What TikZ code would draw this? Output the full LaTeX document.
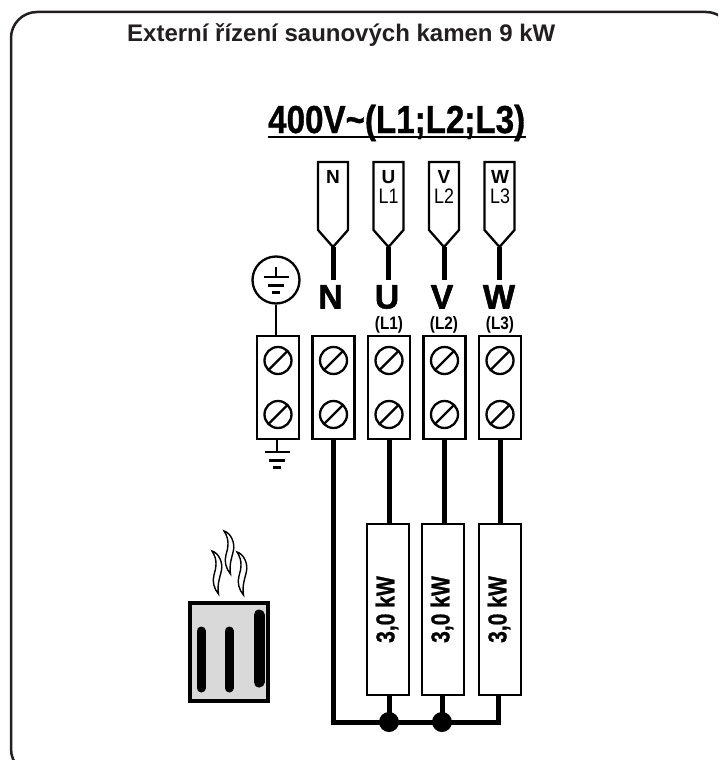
\documentclass[tikz,border=0pt]{standalone}
\usepackage{xcolor}
\usepackage{fontspec}
\setmainfont{Liberation Sans}
\usetikzlibrary{
	positioning
}
\definecolor{heatergray}{HTML}{D9D9D9}
\definecolor{titleink}{HTML}{231F20}
\newcommand{\narrowed}[2]{\scalebox{#1}[1]{#2}}
\newcommand{\earthbars}[1]{\draw [thin wire] (#1) ++(-12.5,0) -- ++(25,0) ++(-20.5,8.5) -- ++(16,0) ++(-12,7) -- ++(8,0);}
\newcommand{\steam}[1]{\draw [vapour,shift={(#1)}] (0,0) .. controls (7,2) and (11,12) .. (9.5,19) .. controls (8,27) and (5,32) .. (6.5,43) .. controls (2,38) and (0,30) .. (2,24) .. controls (4,17) and (6,9) .. (0,0) -- cycle;}
\tikzset{
	node distance=55.5pt,
	thin wire/.style={
		line width=2.3pt
	},
	thick wire/.style={
		line width=5pt
	},
	vapour/.style={
		line width=1.4pt,
		fill=white
	},
	terminal/.style={
		draw,
		line width=2.3pt,
		minimum width=42pt,
		minimum height=103pt
	},
	screw/.style={
		draw,
		circle,
		line width=2.3pt,
		inner sep=0pt,
		minimum size=27pt,
		path picture={
			\draw [line width=2.3pt] (path picture bounding box.south west) -- (path picture bounding box.north east);
		}
	},
	resistor/.style={
		draw,
		line width=2.3pt,
		minimum width=42pt,
		minimum height=171pt
	},
	junction/.style={
		circle,
		fill=black,
		inner sep=0pt,
		minimum size=20pt
	},
	plug label/.style={
		anchor=base,
		inner sep=0pt,
		font=\fontsize{19}{19}\selectfont\bfseries
	},
	plug phase/.style={
		anchor=base,
		inner sep=0pt,
		font=\fontsize{21}{21}\selectfont
	},
	phase letter/.style={
		anchor=base,
		inner sep=5pt,
		font=\fontsize{34}{34}\selectfont\bfseries\addfontfeature{FakeBold=1.5}
	},
	phase number/.style={
		anchor=base,
		inner sep=0pt,
		font=\fontsize{18}{18}\selectfont\bfseries
	},
	power/.style={
		rotate=90,
		inner sep=0pt,
		font=\fontsize{26}{26}\selectfont\bfseries\addfontfeature{FakeBold=1}
	},
	bar/.style={
		line cap=round,
		line width=9pt
	}
}

\begin{document}
\begin{tikzpicture}[x=1pt,y=-1pt]
	\clip (0,0) rectangle (718,760);
	\draw [line width=2.5pt,rounded corners=26pt,titleink] (11,12) rectangle (732,775);

	\node [anchor=base west,inner sep=0pt,text=titleink,font=\fontsize{24}{24}\selectfont\bfseries] (heading) at (127,42) {Externí řízení saunových kamen 9 kW};
	\node [anchor=base west,inner sep=0pt,font=\fontsize{39}{39}\selectfont\bfseries\addfontfeature{FakeBold=1}] (supply) at (268,133) {\narrowed{.85}{400V\textasciitilde(L1;L2;L3)}};
	\coordinate (supplyL) at (268,137);
	\coordinate (supplyR) at (526,137);
	\draw [thin wire] (supplyL) -- (supplyR);

	% plugs
	\coordinate (tipN) at (333,247);
	\coordinate [right of=tipN] (tipU);
	\coordinate [right of=tipU] (tipV);
	\coordinate [right of=tipV] (tipW);
	\draw [thin wire,line join=miter] (tipN) -- ++(-15,-17) -- ++(0,-68) -- ++(30,0) -- ++(0,68) -- cycle;
	\draw [thin wire,line join=miter] (tipU) -- ++(-15,-17) -- ++(0,-68) -- ++(30,0) -- ++(0,68) -- cycle;
	\draw [thin wire,line join=miter] (tipV) -- ++(-15,-17) -- ++(0,-68) -- ++(30,0) -- ++(0,68) -- cycle;
	\draw [thin wire,line join=miter] (tipW) -- ++(-15,-17) -- ++(0,-68) -- ++(30,0) -- ++(0,68) -- cycle;

	\node [plug label] (plugN) at (333,183) {N};
	\node [plug label] (plugU) at (388.5,183) {U};
	\node [plug phase] (phaseU) at (388.5,203) {\narrowed{.85}{L1}};
	\node [plug label] (plugV) at (444,183) {V};
	\node [plug phase] (phaseV) at (444,203) {\narrowed{.85}{L2}};
	\node [plug label] (plugW) at (500,183) {W};
	\node [plug phase] (phaseW) at (500,203) {\narrowed{.85}{L3}};

	\node [phase letter] (bigN) at (330.5,308.5) {N};
	\node [phase letter] (bigU) at (387,308.5) {U};
	\node [phase letter] (bigV) at (442,308.5) {V};
	\node [phase letter] (bigW) at (499,308.5) {W};
	\node [phase number] (numU) at (389,329) {\narrowed{.85}{(L1)}};
	\node [phase number] (numV) at (444,329) {\narrowed{.85}{(L2)}};
	\node [phase number] (numW) at (500,329) {\narrowed{.85}{(L3)}};

	\draw [thick wire] (tipN) -- (tipN |- bigN.north);
	\draw [thick wire] (tipU) -- (tipU |- bigU.north);
	\draw [thick wire] (tipV) -- (tipV |- bigV.north);
	\draw [thick wire] (tipW) -- (tipW |- bigW.north);

	% terminal block
	\node [terminal] (termE) at (278,387.5) {};
	\node [terminal,right of=termE] (termN) {};
	\node [terminal,right of=termN] (termU) {};
	\node [terminal,right of=termU] (termV) {};
	\node [terminal,right of=termV] (termW) {};

	\node [screw] (screwE1) at ([yshift=27pt]termE.center) {};
	\node [screw] (screwE2) at ([yshift=-27pt]termE.center) {};
	\node [screw] (screwN1) at ([yshift=27pt]termN.center) {};
	\node [screw] (screwN2) at ([yshift=-27pt]termN.center) {};
	\node [screw] (screwU1) at ([yshift=27pt]termU.center) {};
	\node [screw] (screwU2) at ([yshift=-27pt]termU.center) {};
	\node [screw] (screwV1) at ([yshift=27pt]termV.center) {};
	\node [screw] (screwV2) at ([yshift=-27pt]termV.center) {};
	\node [screw] (screwW1) at ([yshift=27pt]termW.center) {};
	\node [screw] (screwW2) at ([yshift=-27pt]termW.center) {};

	% earth
	\node [draw,circle,line width=2.3pt,inner sep=0pt,minimum size=47pt] (earth) at (276,280) {};
	\coordinate (earthTop) at (276,277);
	\coordinate (earthBottom) at (277,452);
	\draw [thin wire] (earth.south) -- (earth.south |- termE.north);
	\draw [thin wire] (earthTop) -- ++(0,-10);
	\draw [thin wire] (earthBottom |- termE.south) -- (earthBottom);
	\earthbars{earthTop}
	\earthbars{earthBottom}

	% heating elements
	\node [resistor] (resU) at (388,609.5) {};
	\node [resistor] (resV) at (443,609.5) {};
	\node [resistor] (resW) at (500,609.5) {};
	\node [power] (powerU) at ([xshift=-1pt]resU.center) {\narrowed{.81}{3,0 kW}};
	\node [power] (powerV) at ([xshift=-1pt]resV.center) {\narrowed{.81}{3,0 kW}};
	\node [power] (powerW) at ([xshift=-1pt]resW.center) {\narrowed{.81}{3,0 kW}};

	\node [junction] (dotU) at (389,722) {};
	\node [junction] (dotV) at (442,722) {};
	\coordinate (busW) at (498,722);

	\draw [thick wire] (termU.south) -- (termU.south |- resU.north);
	\draw [thick wire] (termV.south) -- (termV.south |- resV.north);
	\draw [thick wire] (termW.south) -- (termW.south |- resW.north);
	\draw [thick wire] (dotU |- resU.south) -- (dotU.center);
	\draw [thick wire] (dotV |- resV.south) -- (dotV.center);
	\draw [thick wire,line join=miter] (termN.south) -- (termN.south |- dotU) -- (dotU.center) -- (dotV.center) -- (busW) -- (busW |- resW.south);

	% stove
	\node [draw,fill=heatergray,line width=4pt,minimum width=78pt,minimum height=98pt] (stove) at (229,652) {};
	\coordinate (barA) at (201,631);
	\coordinate (barB) at (229,631);
	\coordinate (barC) at (259,615);
	\draw [bar] (barA) -- ++(0,57);
	\draw [bar] (barB) -- ++(0,57);
	\draw [bar,line width=11pt] (barC) -- ++(0,67);

	\coordinate (steamA) at (212,551);
	\coordinate (steamB) at (224,531);
	\coordinate (steamC) at (237,552);
	\steam{steamA}
	\steam{steamB}
	\steam{steamC}
\end{tikzpicture}
\end{document}
